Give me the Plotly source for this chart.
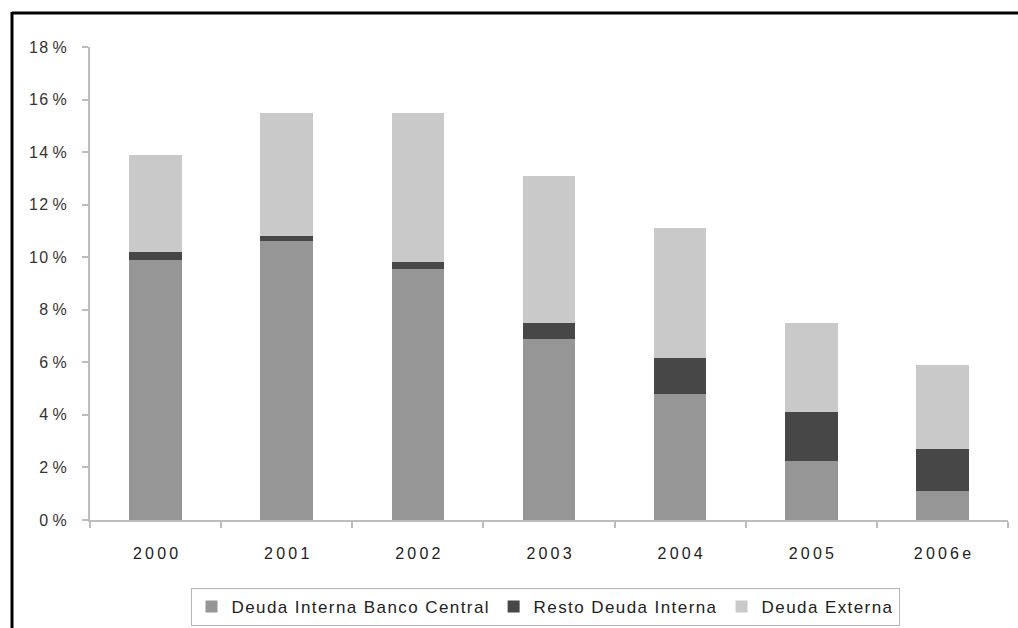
import plotly.graph_objects as go

# Debt composition by year (% of GDP)
years = ["2000", "2001", "2002", "2003", "2004", "2005", "2006e"]
deuda_interna_bc = [9.9, 10.6, 9.55, 6.9, 4.8, 2.25, 1.1]
resto_deuda_interna = [0.3, 0.2, 0.25, 0.6, 1.35, 1.85, 1.6]
deuda_externa = [3.7, 4.7, 5.7, 5.6, 4.95, 3.4, 3.2]
y_ticks = [0, 2, 4, 6, 8, 10, 12, 14, 16, 18]

series_names = ["Deuda Interna Banco Central", "Resto Deuda Interna", "Deuda Externa"]
series_colors = ["#969696", "#474747", "#c9c9c9"]

FONT = "Liberation Sans, Arial, sans-serif"
THIN = "\u2009"
HAIR = "\u200a"


def spaced(text, sep=THIN):
    """Spread the characters of a label apart."""
    return sep.join(text)


fig = go.Figure()
for name, vals, color in zip(series_names,
                             [deuda_interna_bc, resto_deuda_interna, deuda_externa],
                             series_colors):
    fig.add_trace(go.Bar(
        x=years, y=vals, name=spaced(name, HAIR),
        marker=dict(color=color, line=dict(width=0)),
    ))

W, H = 1018, 628
ML, MR, MT, MB = 90, 10, 47, 108
pw, ph = W - ML - MR, H - MT - MB


def px_x(px):
    return (px - ML) / pw


def px_y(py):
    return (H - MB - py) / ph


fig.update_layout(
    width=W, height=H, autosize=False,
    margin=dict(l=ML, r=MR, t=MT, b=MB, autoexpand=False),
    barmode="stack", bargap=0.6,
    paper_bgcolor="white", plot_bgcolor="white",
    font=dict(family=FONT, size=17, color="#333333"),
    showlegend=True,
    legend=dict(
        orientation="h", xref="container", yref="container",
        x=545 / W, xanchor="center", y=1 - 588 / H, yanchor="top",
        bordercolor="#b5b5b5", borderwidth=1, font=dict(size=17, color="#222222"),
        traceorder="normal", itemwidth=30, tracegroupgap=0,
    ),
    xaxis=dict(
        type="category", range=[-0.5, 6.5], automargin=False,
        tickvals=years, ticktext=[spaced(y, THIN) for y in years],
        showline=True, linecolor="#bdbdbd", linewidth=2,
        ticks="outside", tickson="boundaries", ticklen=6, tickcolor="#bdbdbd", tickwidth=2,
        tickfont=dict(size=16, color="#222222"), showgrid=False,
        ticklabelstandoff=18,
    ),
    yaxis=dict(
        range=[0, 18], tickvals=y_ticks, automargin=False,
        ticktext=[spaced(str(v), HAIR) + " %" for v in y_ticks],
        showline=True, linecolor="#bdbdbd", linewidth=2,
        ticks="outside", ticklen=6, tickcolor="#bdbdbd", tickwidth=2,
        tickfont=dict(size=16, color="#333333"), showgrid=False, zeroline=False,
        ticklabelstandoff=12,
    ),
    shapes=[
        dict(type="line", xref="paper", yref="paper",
             x0=px_x(12), x1=px_x(12), y0=px_y(12), y1=px_y(640),
             line=dict(color="black", width=3)),
        dict(type="line", xref="paper", yref="paper",
             x0=px_x(12), x1=px_x(1030), y0=px_y(13), y1=px_y(13),
             line=dict(color="black", width=3)),
    ],
)

fig.write_html("out.html")
